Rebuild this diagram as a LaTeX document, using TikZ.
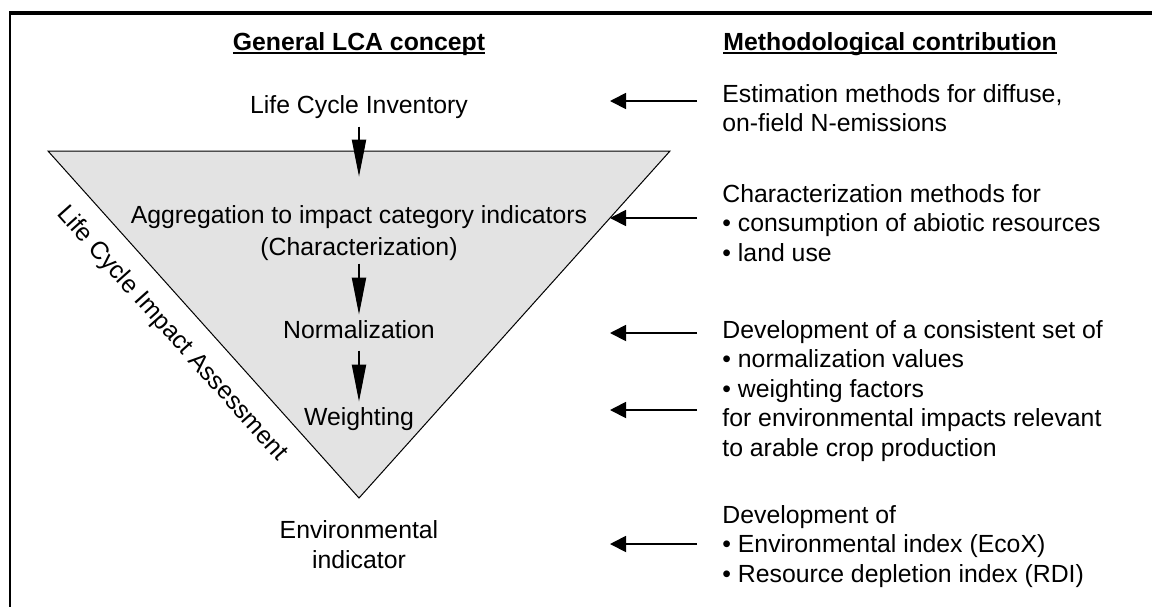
\documentclass[tikz,border=0pt]{standalone}
\usepackage{fontspec}
\setmainfont{Liberation Sans}
\usetikzlibrary{arrows.meta, positioning}
\definecolor{fondoTri}{HTML}{E3E3E3}
\newcommand{\headul}[1]{\setbox0=\hbox{#1}\rlap{\rule[-2pt]{\wd0}{0.9pt}}\box0}

\begin{document}
\begin{tikzpicture}[x=0.5pt, y=-0.5pt,
        txt/.style={inner sep=0pt, font=\fontsize{12.4}{14.75}\selectfont},
        hdr/.style={inner sep=0pt, font=\fontsize{12.4}{14.75}\selectfont\bfseries},
        ctr/.style={txt, align=center, anchor=base},
        lft/.style={txt, align=left, anchor=base west},
        down/.style={-{Triangle[length=18.5pt, width=7pt]}, line width=1pt},
        inp/.style={-{Triangle[length=8pt, width=8pt]}, line width=0.9pt}
    ]
        \useasboundingbox (0,0) rectangle (1152,607);
        \draw[line width=2pt] (9,13) -- (1152,13);
        \draw[line width=1.4pt] (10,12) -- (10,607);
        \draw[fill=fondoTri, line width=0.5pt] (48,151) -- (670,151) -- (359,498) -- cycle;

        \node[hdr, anchor=base] (hl) at (359,50) {\headul{General LCA concept}};
        \node[hdr, anchor=base west] (hr) at (723,50) {\headul{Methodological contribution}};

        \node[ctr] (lci) at (359,113) {Life Cycle Inventory};
        \node[ctr] (agg) at (359,255) {Aggregation to impact category indicators\\[1.2pt](Characterization)};
        \node[ctr] (norm) at (359,338) {Normalization};
        \node[ctr] (wgt) at (359,425) {Weighting};
        \node[ctr] (env) at (359,568) {Environmental\\indicator};
        \node[txt, rotate=-48.2, anchor=base] (lcia) at (167,338) {Life Cycle Impact Assessment};

        \draw[down, shorten <=4pt, shorten >=14pt] (lci) -- (agg);
        \draw[down, shorten <=1.5pt, shorten >=2.5pt] (agg) -- (norm);
        \draw[down, shorten <=6pt, shorten >=2.5pt] (norm) -- (wgt);

        \node[lft] (m1) at (722,131.5) {Estimation methods for diffuse,\\on-field N-emissions};
        \node[lft] (m2) at (722,261) {Characterization methods for\\• consumption of abiotic resources\\• land use};
        \node[lft] (m3) at (722,456) {Development of a consistent set of\\• normalization values\\• weighting factors\\for environmental impacts relevant\\to arable crop production};
        \node[lft] (m4) at (722,582) {Development of\\• Environmental index (EcoX)\\• Resource depletion index (RDI)};

        \foreach \y [count=\i] in {101,218,333,410,544} {
            \coordinate (s\i) at (697,\y);
            \coordinate (e\i) at (610,\y);
            \draw[inp] (s\i) -- (e\i);
        }
    \end{tikzpicture}
\end{document}
